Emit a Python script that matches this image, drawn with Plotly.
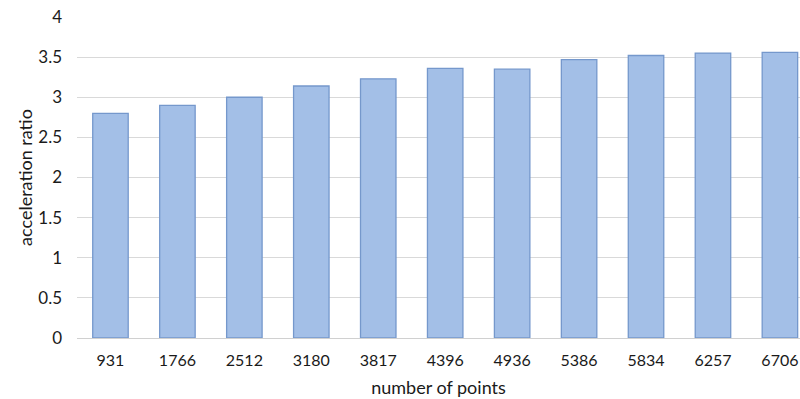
import plotly.graph_objects as go

# Point counts (categories) and measured acceleration ratios
points = ["931", "1766", "2512", "3180", "3817", "4396", "4936", "5386", "5834", "6257", "6706"]
ratios = [2.80, 2.90, 3.00, 3.14, 3.23, 3.36, 3.35, 3.47, 3.52, 3.55, 3.56]
y_ticks = [0, 0.5, 1, 1.5, 2, 2.5, 3, 3.5, 4]
y_tick_text = ["0", "0.5", "1", "1.5", "2", "2.5", "3", "3.5", "4"]

fig = go.Figure(
    go.Bar(
        x=points,
        y=ratios,
        marker=dict(color="#a3bfe7", line=dict(color="#7598cc", width=1.3)),
        width=0.53,
    )
)

font = dict(family="Lato, 'Open Sans', sans-serif", color="#1a1a1a")

fig.update_layout(
    width=800,
    height=399,
    margin=dict(l=77, r=0, t=17, b=61),
    paper_bgcolor="white",
    plot_bgcolor="white",
    showlegend=False,
    font=dict(**font, size=16),
    xaxis=dict(
        type="category",
        range=[-0.5, 10.3],
        showgrid=False,
        showline=True,
        linecolor="#d0d0d0",
        linewidth=1,
        ticks="",
        tickfont=dict(size=16),
        ticklabelstandoff=8,
        title=dict(text="number of points", font=dict(size=18), standoff=13),
    ),
    yaxis=dict(
        range=[0, 4],
        tickvals=y_ticks,
        ticktext=y_tick_text,
        showgrid=True,
        gridcolor="#d9d9d9",
        gridwidth=1,
        zeroline=False,
        ticks="",
        ticklabelstandoff=14,
        tickfont=dict(size=17),
        title=dict(text="acceleration ratio", font=dict(size=18), standoff=0),
    ),
)

fig.write_html("out.html")
